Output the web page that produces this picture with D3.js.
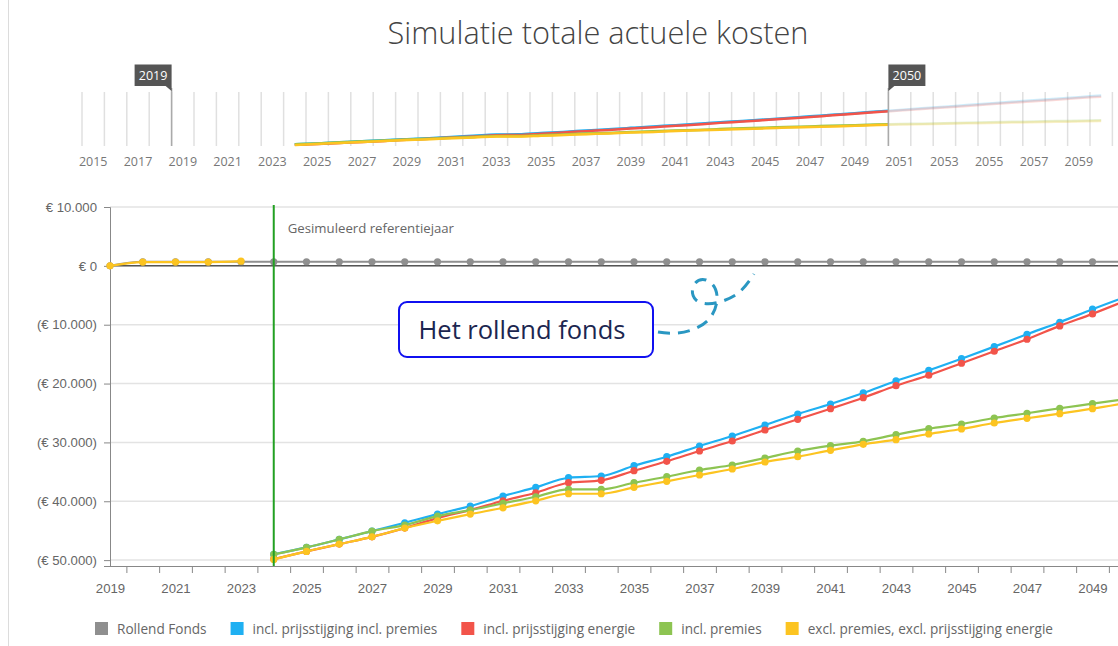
<!DOCTYPE html>
<html>
<head>
<meta charset="utf-8">
<script src="https://cdn.jsdelivr.net/npm/d3@7"></script>
<style>
  body { margin: 0; background: #fff; }
  svg { display: block; font-family: "Open Sans", "Noto Sans", sans-serif; }
</style>
</head>
<body>
<div id="chart"></div>
<script>
// --------------------------------------------------
// data (euro, negative = kosten)

var jaren = [2024, 2025, 2026, 2027, 2028, 2029, 2030, 2031, 2032, 2033,
    2034, 2035, 2036, 2037, 2038, 2039, 2040, 2041, 2042, 2043,
    2044, 2045, 2046, 2047, 2048, 2049, 2050, 2051, 2052, 2053,
    2054, 2055, 2056, 2057, 2058, 2059, 2060];

var inclPrijsInclPremies = [-49000, -47840, -46480, -45070, -43660, -42180, -40820, -39120, -37640, -36000,
    -35710, -33960, -32430, -30610, -28910, -27040, -25170, -23470, -21600, -19560,
    -17740, -15770, -13730, -11620, -9580, -7360, -5270, -3100, -900, 1300,
    3500, 5700, 7800, 9900, 12000, 14100, 16200];

var inclPrijsEnergie = [-49830, -48520, -47280, -46040, -44560, -42860, -41500, -39920, -38550, -36850,
    -36450, -34810, -33210, -31460, -29760, -27890, -26070, -24270, -22400, -20360,
    -18590, -16550, -14510, -12470, -10200, -8160, -5950, -3850, -1750, 350,
    2400, 4500, 6600, 8600, 10700, 12800, 14800];

var inclPremies = [-49030, -47840, -46480, -45070, -44050, -42520, -41500, -40360, -39240, -37980,
    -37980, -36850, -35830, -34690, -33840, -32650, -31460, -30560, -29810, -28690,
    -27670, -26870, -25850, -25050, -24200, -23420, -22620, -22000, -21400, -20800,
    -20200, -19600, -19000, -18500, -18000, -17500, -17000];

var exclAlles = [-49880, -48520, -47280, -46040, -44560, -43320, -42180, -41110, -39920, -38720,
    -38720, -37640, -36610, -35540, -34520, -33330, -32430, -31340, -30320, -29540,
    -28570, -27720, -26700, -25900, -25120, -24270, -23300, -22700, -22100, -21500,
    -21000, -20500, -20000, -19500, -19000, -18500, -18000];

// historic part (before reference year) of the yellow series
var historieJaren = [2019, 2020, 2021, 2022, 2023];
var historieWaarden = [0, 650, 650, 650, 800];

var fondsJaren = [2019, 2020, 2021, 2022, 2023, 2024, 2025, 2026, 2027, 2028,
    2029, 2030, 2031, 2032, 2033, 2034, 2035, 2036, 2037, 2038,
    2039, 2040, 2041, 2042, 2043, 2044, 2045, 2046, 2047, 2048,
    2049, 2050];
var rollendFonds = [0, 700, 700, 700, 700, 700, 700, 700, 700, 700,
    700, 700, 700, 700, 700, 700, 700, 700, 700, 700,
    700, 700, 700, 700, 700, 700, 700, 700, 700, 700,
    700, 700];

var yTicks = [10000, 0, -10000, -20000, -30000, -40000, -50000];
var seriesNamen = ["Rollend Fonds", "incl. prijsstijging incl. premies", "incl. prijsstijging energie",
    "incl. premies", "excl. premies, excl. prijsstijging energie"];
var kleuren = ["#8f8f8f", "#1fb0f2", "#f2544a", "#8dc452", "#fcc421"];
var referentieJaar = 2024;
var selectie = [2019, 2050];

// --------------------------------------------------

var svg = d3.select("#chart")
    .append("svg")
    .attr("width", 1118)
    .attr("height", 646);

// left panel border
svg.append("line")
    .attr("x1", 8.5).attr("x2", 8.5)
    .attr("y1", 0).attr("y2", 646)
    .attr("stroke", "#dcdcdc");

// title
svg.append("text")
    .attr("x", 598)
    .attr("y", 44)
    .attr("text-anchor", "middle")
    .attr("font-size", "30.7px")
    .attr("font-weight", 300)
    .attr("fill", "#444")
    .text("Simulatie totale actuele kosten");

var reeksen = [
    { naam: seriesNamen[1], kleur: kleuren[1], waarden: inclPrijsInclPremies },
    { naam: seriesNamen[2], kleur: kleuren[2], waarden: inclPrijsEnergie },
    { naam: seriesNamen[3], kleur: kleuren[3], waarden: inclPremies },
    { naam: seriesNamen[4], kleur: kleuren[4], waarden: exclAlles }
];
reeksen.forEach(function(r) {
    r.punten = jaren.map(function(j, i) { return { jaar: j, v: r.waarden[i] }; });
});

// --------------------------------------------------
// navigator (subchart)

var nx = d3.scaleLinear().domain([2014.5, 2060.5]).range([82, 82 + 46 * 22.4]);
var ny = d3.scaleLinear().domain([-50000, 21000]).range([145, 92]);
var nav = svg.append("g");

var navJaren = d3.range(2015, 2061);
nav.selectAll(".navgrid")
    .data(navJaren.concat([2061]))
    .enter()
    .append("line")
    .attr("x1", function(d) { return nx(d - 0.5); })
    .attr("x2", function(d) { return nx(d - 0.5); })
    .attr("y1", 92).attr("y2", 146)
    .attr("stroke", "#e0e0e0")
    .attr("stroke-width", 1.5);

nav.selectAll(".navlabel")
    .data(navJaren.filter(function(d) { return d % 2 === 1; }))
    .enter()
    .append("text")
    .attr("x", function(d) { return nx(d); })
    .attr("y", 166)
    .attr("text-anchor", "middle")
    .attr("font-size", "12.5px")
    .attr("fill", "#777")
    .text(function(d) { return d; });

var navLine = d3.line()
    .x(function(d) { return nx(d.jaar); })
    .y(function(d) { return ny(d.v); })
    .curve(d3.curveMonotoneX);

var selX0 = nx(selectie[0] - 0.5), selX1 = nx(selectie[1] + 0.5);
svg.append("clipPath").attr("id", "selclip")
    .append("rect")
    .attr("x", selX0).attr("y", 80)
    .attr("width", selX1 - selX0).attr("height", 80);

nav.selectAll(".navfaded")
    .data(reeksen)
    .enter()
    .append("path")
    .attr("d", function(r) { return navLine(r.punten); })
    .attr("fill", "none")
    .attr("stroke", function(r) { return r.kleur; })
    .attr("stroke-width", 2.5)
    .attr("opacity", 0.22);

nav.append("g")
    .attr("clip-path", "url(#selclip)")
    .selectAll("path")
    .data(reeksen)
    .enter()
    .append("path")
    .attr("d", function(r) { return navLine(r.punten); })
    .attr("fill", "none")
    .attr("stroke", function(r) { return r.kleur; })
    .attr("stroke-width", 2.5);

// selection handles
[{ x: selX0, label: selectie[0], side: -1 }, { x: selX1, label: selectie[1], side: 1 }].forEach(function(h) {
    nav.append("line")
        .attr("x1", h.x).attr("x2", h.x)
        .attr("y1", 88).attr("y2", 146)
        .attr("stroke", "#aaa")
        .attr("stroke-width", 1.5);
    var bx = h.side < 0 ? h.x - 37 : h.x;
    nav.append("rect")
        .attr("x", bx).attr("y", 64.5)
        .attr("width", 37).attr("height", 21.5)
        .attr("fill", "#555");
    nav.append("path")
        .attr("d", "M" + h.x + ",86 L" + (h.x + 6 * h.side) + ",86 L" + h.x + ",91 Z")
        .attr("fill", "#555");
    nav.append("text")
        .attr("x", bx + 18.5).attr("y", 80)
        .attr("text-anchor", "middle")
        .attr("font-size", "12.5px")
        .attr("fill", "#fff")
        .text(h.label);
});

// --------------------------------------------------
// main chart

var margin = { left: 110, top: 207 };
var width = 1008, height = 359;
var g = svg.append("g")
    .attr("transform", "translate(" + margin.left + ", " + margin.top + ")");

var x = d3.scaleLinear().domain([2019, 2050]).range([0, 31 * 32.75]);
var y = d3.scaleLinear().domain([-51000, 10000]).range([height, 0]);

var nl = d3.formatLocale({ decimal: ",", thousands: ".", grouping: [3], currency: ["€ ", ""] });
var fmt = nl.format(",");
function euro(v) {
    return v >= 0 ? "€ " + fmt(v) : "(€ " + fmt(-v) + ")";
}

// grid
g.selectAll(".grid")
    .data(yTicks)
    .enter()
    .append("line")
    .attr("x1", 0).attr("x2", width)
    .attr("y1", function(d) { return y(d); })
    .attr("y2", function(d) { return y(d); })
    .attr("stroke", "#e3e3e3")
    .attr("stroke-width", 1.5);

// y axis
var yAxis = g.append("g")
    .call(d3.axisLeft(y).tickValues(yTicks).tickSize(6).tickPadding(7).tickFormat(euro));
yAxis.selectAll("text").attr("font-size", "13.2px").attr("fill", "#666").attr("font-family", null);
yAxis.selectAll("line").attr("stroke", "#888");
yAxis.select(".domain").attr("stroke", "#888");

// x axis: labels on odd years, ticks between years
var xLabels = g.append("g")
    .attr("transform", "translate(0, " + height + ")")
    .call(d3.axisBottom(x).tickValues(d3.range(2019, 2050, 2)).tickSize(0).tickPadding(18).tickFormat(d3.format("d")));
xLabels.select(".domain").remove();
xLabels.selectAll("text").attr("font-size", "13.2px").attr("fill", "#666").attr("font-family", null);

var xTicks = g.append("g")
    .attr("transform", "translate(0, " + height + ")")
    .call(d3.axisBottom(x).tickValues(d3.range(2019.5, 2050, 1)).tickSize(7).tickFormat(""));
xTicks.select(".domain").remove();
xTicks.selectAll("line").attr("stroke", "#888");
g.append("line")
    .attr("x1", 0).attr("x2", width)
    .attr("y1", height + 0.5).attr("y2", height + 0.5)
    .attr("stroke", "#888");

// clip for data
svg.append("clipPath").attr("id", "plotclip")
    .append("rect")
    .attr("x", -6).attr("y", -6)
    .attr("width", width + 6).attr("height", height + 12);
var data = g.append("g").attr("clip-path", "url(#plotclip)");

// zero line
data.append("line")
    .attr("x1", 0).attr("x2", width)
    .attr("y1", y(0)).attr("y2", y(0))
    .attr("stroke", "#555")
    .attr("stroke-width", 1.5);

var line = d3.line()
    .x(function(d) { return x(d.jaar); })
    .y(function(d) { return y(d.v); })
    .curve(d3.curveMonotoneX);

function drawSeries(punten, kleur) {
    data.append("path")
        .attr("d", line(punten))
        .attr("fill", "none")
        .attr("stroke", kleur)
        .attr("stroke-width", 2.2);
    data.selectAll(null)
        .data(punten)
        .enter()
        .append("circle")
        .attr("cx", function(d) { return x(d.jaar); })
        .attr("cy", function(d) { return y(d.v); })
        .attr("r", 3.6)
        .attr("fill", kleur);
}

drawSeries(fondsJaren.map(function(j, i) { return { jaar: j, v: rollendFonds[i] }; }), kleuren[0]);
reeksen.forEach(function(r) {
    drawSeries(r.punten.filter(function(d) { return d.jaar <= selectie[1]; }), r.kleur);
});
drawSeries(historieJaren.map(function(j, i) { return { jaar: j, v: historieWaarden[i] }; }), kleuren[4]);

// reference year line
g.append("line")
    .attr("x1", x(referentieJaar)).attr("x2", x(referentieJaar))
    .attr("y1", -2).attr("y2", height)
    .attr("stroke", "#22a022")
    .attr("stroke-width", 2);
g.append("text")
    .attr("x", x(referentieJaar) + 14)
    .attr("y", 26)
    .attr("font-size", "13.2px")
    .attr("fill", "#666")
    .text("Gesimuleerd referentiejaar");

// --------------------------------------------------
// annotation

svg.append("rect")
    .attr("x", 399).attr("y", 302)
    .attr("width", 254).attr("height", 55)
    .attr("rx", 8)
    .attr("fill", "#fff")
    .attr("stroke", "#1010f0")
    .attr("stroke-width", 2);
svg.append("text")
    .attr("x", 522).attr("y", 339)
    .attr("text-anchor", "middle")
    .attr("font-size", "25.5px")
    .attr("fill", "#1c2650")
    .text("Het rollend fonds");
svg.append("path")
    .attr("d", "M658,332 C680,336 700,330 710,318 C720,305 720,285 706,280 C694,277 688,292 696,300 C706,308 725,302 737,294 C745,288 750,280 754,274")
    .attr("fill", "none")
    .attr("stroke", "#2a97c2")
    .attr("stroke-width", 3)
    .attr("stroke-dasharray", "12,8");

// --------------------------------------------------
// legend

var legend = svg.append("g").attr("transform", "translate(95, 622)");
var lx = 0;
seriesNamen.forEach(function(naam, i) {
    legend.append("rect")
        .attr("x", lx).attr("y", 0)
        .attr("width", 13).attr("height", 13)
        .attr("fill", kleuren[i]);
    var t = legend.append("text")
        .attr("x", lx + 22).attr("y", 11.5)
        .attr("font-size", "13.6px")
        .attr("fill", "#666")
        .text(naam);
    lx += 22 + t.node().getComputedTextLength() + 24;
});
</script>
</body>
</html>
